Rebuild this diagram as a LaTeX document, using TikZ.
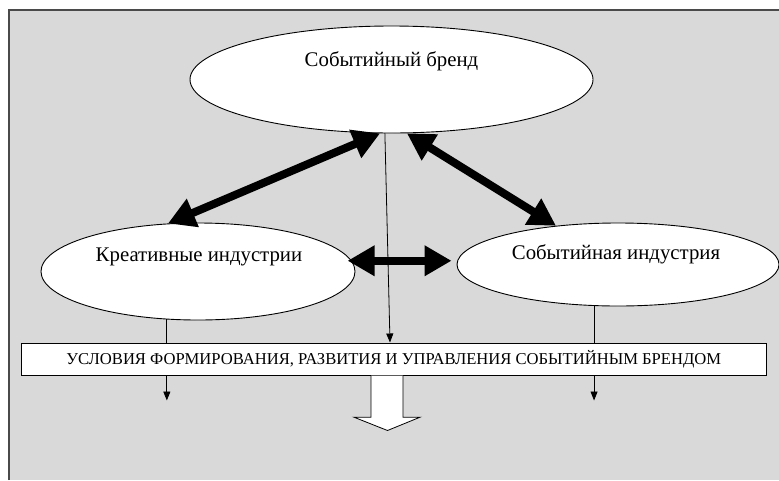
\documentclass[tikz,border=0pt]{standalone}
\usepackage{fontspec}
\setmainfont{Liberation Serif}
\usetikzlibrary{arrows.meta, calc, shapes.geometric}
\definecolor{panelgray}{HTML}{D9D9D9}
\definecolor{framegray}{HTML}{4A4A4A}
\tikzset{
    blob/.style={draw, ellipse, fill=white, line width=0.9pt, inner sep=0pt},
    blobtext/.style={anchor=base, font=\fontsize{20.8}{23}\selectfont},
    condbox/.style={draw, fill=white, line width=1pt, inner sep=0pt,
        minimum width=745pt, minimum height=32pt,
        font=\fontsize{16.6}{18}\selectfont},
    bigtwo/.style={line width=8pt,
        {Triangle[length=27pt,width=29pt]}-{Triangle[length=27pt,width=29pt]}},
    thinarrow/.style={line width=0.8pt, -{Triangle[length=9pt,width=7pt]}},
    hollowarrow/.style={draw, fill=white, line width=0.8pt},
}

\begin{document}
\begin{tikzpicture}[x=1pt, y=-1pt]
    \useasboundingbox (0,0) rectangle (779,480);
    \fill[white] (0,0) rectangle (779,480);
    \fill[panelgray] (8.5,9.5) rectangle (779,480);
    \draw[framegray, line width=2pt] (8.5,480) -- (8.5,9.5) -- (779,9.5);

    \node[blob, minimum width=403pt, minimum height=107pt] (brand) at (391.5,79.5) {};
    \node[blob, minimum width=314pt, minimum height=97pt] (creative) at (198,271.5) {};
    \node[blob, minimum width=322pt, minimum height=83pt] (eventind) at (618,264.5) {};
    \node[condbox] (cond) at (393.75,359)
        {УСЛОВИЯ ФОРМИРОВАНИЯ, РАЗВИТИЯ И УПРАВЛЕНИЯ СОБЫТИЙНЫМ БРЕНДОМ};

    \node[blobtext] (brandtxt) at ($(brand.center)+(0,-13.5)$) {Событийный бренд};
    \node[blobtext] (creativetxt) at ($(creative.center)+(1,-10.5)$) {Креативные индустрии};
    \node[blobtext] (eventindtxt) at ($(eventind.center)+(-2,-5.5)$) {Событийная индустрия};

    % links between the three ellipses
    \draw[bigtwo] (brand.258) -- (creative.122);
    \draw[bigtwo] (brand.286) -- (eventind.148);
    \draw[bigtwo, shorten <=-4pt, shorten >=5pt] (creative.4) -- (creative.4 -| eventind.west);

    \draw[thinarrow] (brand.263) -- ([xshift=-3.75pt]cond.north);
    \foreach \nd/\ang in {creative/237, eventind/240}{
        \draw[line width=0.8pt] (\nd.\ang) -- (\nd.\ang |- cond.north);
        \draw[thinarrow] (\nd.\ang |- cond.south) -- ++(0,25);
    }

    \draw[hollowarrow] ($(cond.south)+(-22.75,0)$) -- ++(0,41.7) -- ++(-17,0)
        -- ($(cond.south)+(-6.25,55)$) -- ($(cond.south)+(26.25,41.7)$)
        -- ++(-17,0) -- ($(cond.south)+(9.25,0)$);
\end{tikzpicture}
\end{document}
